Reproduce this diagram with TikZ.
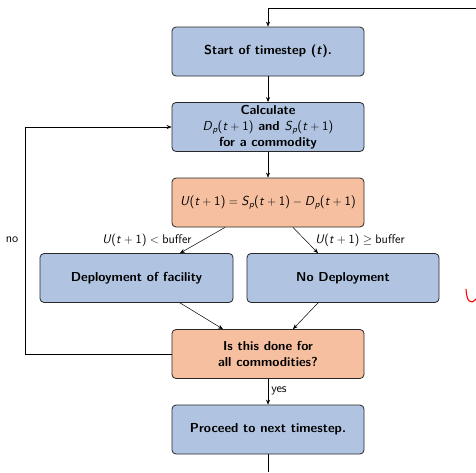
\documentclass[tikz,border=0pt]{standalone}
\usetikzlibrary{arrows.meta,calc}
\definecolor{boxblue}{RGB}{176,196,226}
\definecolor{boxorange}{RGB}{246,192,160}
\definecolor{edge}{RGB}{40,40,40}
\newcommand\targ{(\textit{t}${}+{}$1)}
\newcommand\sbp{\raisebox{-0.45ex}{\fontsize{9}{9}\selectfont\textit{p}}}
\tikzset{
  box/.style={draw=edge, line width=0.8pt, rounded corners=4pt, minimum width=192pt, minimum height=49pt, align=center, font=\sffamily\bfseries\fontsize{13}{16}\selectfont, inner sep=1pt},
  bluebox/.style={box, fill=boxblue},
  orangebox/.style={box, fill=boxorange},
  conn/.style={draw=black, line width=0.5pt},
  arr/.style={conn, -{Stealth[length=5pt,width=4pt]}},
  lbl/.style={font=\sffamily\fontsize{12.5}{14}\selectfont, inner sep=1pt}
}
\begin{document}
\begin{tikzpicture}[x=1pt,y=1pt]
\useasboundingbox (0,0) rectangle (476,-472);
\node[bluebox] (start) at (268,-51.5) {Start of timestep (\textit{t}).};
\node[bluebox] (calc) at (268,-127) {Calculate\\\textmd{\textit{D}\sbp\targ} and \textmd{\textit{S}\sbp\targ}\\for a commodity};
\node[orangebox, font=\sffamily\fontsize{13}{16}\selectfont] (ubox) at (268,-202.5) {\textit{U}\targ${}={}$\textit{S}\sbp\targ${}-{}$\textit{D}\sbp\targ};
\node[bluebox, minimum width=193pt] (dep) at (136.5,-278) {Deployment of facility};
\node[bluebox] (nodep) at (343,-278) {No Deployment};
\node[orangebox] (done) at (268,-354) {Is this done for\\all commodities?};
\node[bluebox] (proc) at (268,-429.5) {Proceed to next timestep.};
\coordinate (topR) at (476,-8);
\coordinate (topC) at (268,-8);
\coordinate (botC) at (268,-472);
\coordinate (loopB) at (25,-354);
\coordinate (loopT) at (25,-127);
\draw[arr] (topR) -- (topC) -- (start.north);
\draw[arr] (start) -- (calc);
\draw[arr] (calc) -- (ubox);
\draw[arr] ($(ubox.south)+(-43,0)$) -- ($(dep.north)+(43.5,0)$);
\draw[arr] ($(ubox.south)+(25,0)$) -- ($(nodep.north)+(-25,0)$);
\draw[arr] ($(dep.south)+(43.5,0)$) -- ($(done.north)+(-45,0)$);
\draw[arr] ($(nodep.south)+(-25,0)$) -- ($(done.north)+(25,0)$);
\draw[arr] (done) -- node[lbl, right, pos=0.45, xshift=2pt] {yes} (proc);
\draw[conn] (proc) -- (botC);
\draw[arr] (done.west) -- (loopB) -- (loopT) -- (calc.west);
\node[lbl] (nolbl) at (12,-240) {no};
\node[lbl] (lblL) at (147,-240) {\textit{U}\targ${}<{}$buffer};
\node[lbl] (lblR) at (360,-240) {\textit{U}\targ${}\geq{}$buffer};
\draw[red, line width=1.1pt] (466,-289) .. controls (466.5,-300) and (470,-306) .. (476,-299);
\end{tikzpicture}
\end{document}
